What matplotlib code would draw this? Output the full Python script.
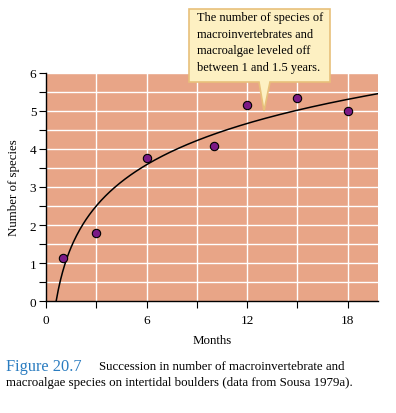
import numpy as np
import matplotlib
matplotlib.use("Agg")
import matplotlib.pyplot as plt
from matplotlib.patches import Polygon

months = [1, 3, 6, 10, 12, 15, 18]
species = [1.13, 1.8, 3.75, 4.07, 5.15, 5.35, 5.0]
x_tick_labels = ["0", "", "6", "", "12", "", "18"]
y_tick_labels = ["0", "1", "2", "3", "4", "5", "6"]
note = "The number of species of\nmacroinvertebrates and\nmacroalgae leveled off\nbetween 1 and 1.5 years."

serif = ["Liberation Serif", "DejaVu Serif"]
plt.rcParams["font.family"] = serif

fig = plt.figure(figsize=(3.96, 4.14), dpi=100)
ax = fig.add_axes([0.1162, 0.2705, 0.8376, 0.5508])
ax.set_facecolor("#e8a587")
ax.set_xlim(0, 19.8)
ax.set_ylim(0, 6)

# grid
ax.set_xticks(np.arange(0, 19, 3))
ax.set_xticklabels(x_tick_labels, fontsize=9.5)
ax.set_yticks(np.arange(0, 7, 1))
ax.set_yticklabels(y_tick_labels, fontsize=9.5)
ax.set_yticks(np.arange(0, 6.01, 0.5), minor=True)
for v in np.arange(3, 19, 3):
    ax.axvline(v, color="white", lw=1.0, zorder=1)
for v in np.arange(0.5, 6.01, 0.5):
    ax.axhline(v, color="white", lw=1.0, zorder=1)
ax.tick_params(axis="both", which="both", direction="out", length=5, width=0.8, color="black", pad=2)
ax.tick_params(axis="x", which="major", pad=4)
ax.tick_params(axis="y", which="minor", length=5)
for s in ["top", "right"]:
    ax.spines[s].set_visible(False)
for s in ["left", "bottom"]:
    ax.spines[s].set_linewidth(1.0)
    ax.spines[s].set_zorder(5)

# logarithmic fit
lx = np.log(np.array(months, dtype=float))
b, a = np.polyfit(lx, np.array(species), 1)
x0 = np.exp(-a / b)
xs = np.linspace(x0, 19.8, 300)
ax.plot(xs, a + b * np.log(xs), color="black", lw=1.1, zorder=3)

ax.scatter(months, species, s=36, color="#7b1a86", edgecolor="black", linewidth=0.8, zorder=4, clip_on=False)

ax.set_ylabel("Number of species", fontsize=9.3, labelpad=7)
ax.set_xlabel("Months", fontsize=9.3, labelpad=6)

# callout box (figure pixel coordinates -> fraction)
W, H = 396, 414
def fp(px, py):
    return (px / W, 1 - py / H)
box = [fp(189, 10), fp(330, 10), fp(330, 83), fp(270, 83), fp(264, 112), fp(259, 83), fp(189, 83)]
fig.patches.append(Polygon(box, closed=True, transform=fig.transFigure,
                           facecolor="#fdf0c2", edgecolor="#e8c07a", lw=1.2, zorder=10))
tx, ty = fp(197, 12)
fig.text(tx, ty, note, fontsize=8.9, va="top", ha="left", linespacing=1.5, zorder=11)

# caption
cx, cy = fp(6, 367)
fig.text(cx, cy, "Figure 20.7", fontsize=11.8, color="#2a7cc0", va="center", ha="left",
         family=["Liberation Serif"])
cx2, cy2 = fp(99, 367)
fig.text(cx2, cy2, "Succession in number of macroinvertebrate and", fontsize=9.3, va="center", ha="left")
cx3, cy3 = fp(6, 383)
fig.text(cx3, cy3, "macroalgae species on intertidal boulders (data from Sousa 1979a).", fontsize=9.3,
         va="center", ha="left")

fig.savefig("out.png", dpi=100)
